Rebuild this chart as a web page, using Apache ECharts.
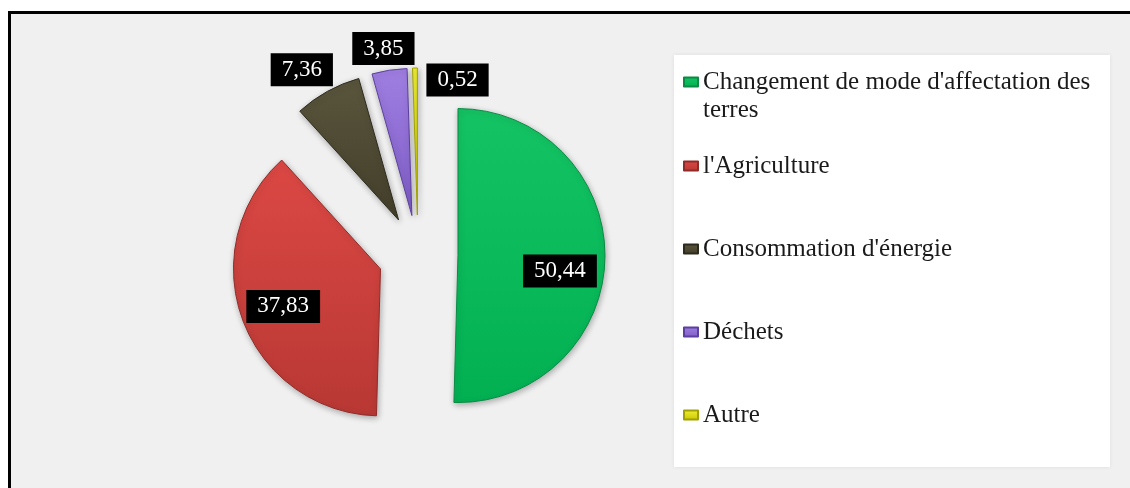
<!DOCTYPE html>
<html><head><meta charset="utf-8">
<script src="https://cdn.jsdelivr.net/npm/echarts@6/dist/echarts.min.js"></script>
<style>
html,body{margin:0;padding:0;background:#fff;overflow:hidden;}
#panel{position:absolute;left:8px;top:11px;width:1122px;height:477px;box-sizing:border-box;border-top:3px solid #000;border-left:3px solid #000;background:#f0f0f0;}
#chart{position:absolute;left:0;top:0;width:1130px;height:488px;}
</style></head><body>
<div id="panel"></div><div id="chart"></div>
<script>
const categories = ["Changement de mode d'affectation des terres", "l'Agriculture", "Consommation d'énergie", "Déchets", "Autre"];
const values = [50.44, 37.83, 7.36, 3.85, 0.52];
const colorsLight = ['#14c464', '#dc4844', '#5a553c', '#a07fe2', '#f0f036'];
const colorsDark  = ['#02b052', '#b83834', '#423e2a', '#7e5cc6', '#c9c600'];
const colorsEdge  = ['#0a8a44', '#8f2b28', '#2c2a1c', '#5c3fa0', '#a0a000'];

const chart = echarts.init(document.getElementById('chart'), null, {renderer: 'canvas'});
const CENTER = [418, 255];
const R = 147;
const OFFSET = 40;
const innerLabelIdx = [0, 1];
const nudge = [[-6, 14], [4, 0], [-13, 1], [-2, 4], [43, 38]];

function grad(i) {
  return new echarts.graphic.LinearGradient(0, 0, 0, 1, [
    {offset: 0, color: colorsLight[i]}, {offset: 1, color: colorsDark[i]}
  ]);
}
const mainData = categories.map((name, i) => ({
  name, value: values[i], selected: true,
  itemStyle: {color: grad(i), borderColor: colorsEdge[i], borderWidth: 1}
}));
function labelData(showSet) {
  return categories.map((name, i) => ({
    name, value: values[i], selected: true,
    label: {show: showSet.indexOf(i) >= 0}
  }));
}
const labelStyle = {
  position: 'inside',
  formatter: p => p.value.toFixed(2).replace('.', ','),
  color: '#fff', backgroundColor: '#000',
  fontFamily: 'Liberation Serif', fontSize: 23, lineHeight: 25,
  padding: [4, 11]
};
const labelLayout = p => ({dx: nudge[p.dataIndex][0], dy: nudge[p.dataIndex][1]});
const hiddenSeries = (radius, showSet) => ({
  type: 'pie', center: CENTER, radius: radius, startAngle: 90, clockwise: true,
  selectedMode: 'multiple', selectedOffset: OFFSET, silent: true,
  avoidLabelOverlap: false, minShowLabelAngle: 0,
  itemStyle: {color: 'rgba(0,0,0,0)', borderWidth: 0},
  label: labelStyle, labelLine: {show: false},
  labelLayout: labelLayout,
  emphasis: {disabled: true}, z: 3,
  data: labelData(showSet)
});

chart.setOption({
  animation: false,
  backgroundColor: 'transparent',
  graphic: [{
    type: 'rect', z: 0, shape: {x: 674, y: 55, width: 436, height: 412},
    style: {fill: '#ffffff', shadowBlur: 4, shadowColor: 'rgba(0,0,0,0.08)'}
  }],
  legend: [{
    data: [categories[0]], orient: 'vertical', left: 683, top: 40, padding: 0,
    icon: 'rect', itemWidth: 14, itemHeight: 9, z: 5, selectedMode: false,
    formatter: name => '\n' + name,
    textStyle: {fontFamily: 'Liberation Serif', fontSize: 25, lineHeight: 28, color: '#1a1a1a',
      width: 405, overflow: 'break'}
  }, {
    data: categories.slice(1), orient: 'vertical', left: 683, top: 152, padding: 0, itemGap: 55,
    icon: 'rect', itemWidth: 14, itemHeight: 9, z: 5, selectedMode: false,
    textStyle: {fontFamily: 'Liberation Serif', fontSize: 25, lineHeight: 28, color: '#1a1a1a'}
  }],
  series: [{
    type: 'pie', center: CENTER, radius: R, startAngle: 90, clockwise: true,
    selectedMode: 'multiple', selectedOffset: OFFSET, silent: true,
    label: {show: false}, labelLine: {show: false},
    itemStyle: {shadowBlur: 6, shadowColor: 'rgba(0,0,0,0.3)', shadowOffsetX: 1, shadowOffsetY: 2},
    emphasis: {disabled: true}, z: 2,
    data: mainData
  },
  hiddenSeries(210, innerLabelIdx),
  hiddenSeries(340, [2, 3, 4])
  ]
});
</script>
</body></html>
